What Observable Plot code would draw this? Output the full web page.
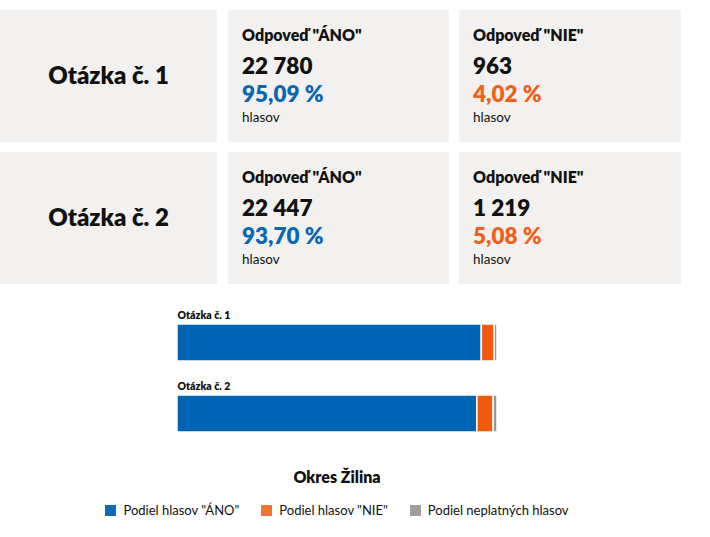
<!DOCTYPE html>
<html>
<head>
<meta charset="utf-8">
<script src="https://cdn.jsdelivr.net/npm/d3@7"></script>
<script src="https://cdn.jsdelivr.net/npm/@observablehq/plot@0.6"></script>
<style>
  html, body { margin: 0; padding: 0; background: #fff; }
  body { width: 710px; height: 537px; position: relative; overflow: hidden; font-family: Lato, "Open Sans", sans-serif; color: #111; }
  .card { position: absolute; background: #f2f1f0; }
  .t { position: absolute; white-space: nowrap; line-height: 1; }
  #chart { position: absolute; left: 0; top: 290px; }
  #title { position: absolute; left: 0; width: 674px; text-align: center; font-weight: 700; font-size: 16px; line-height: 1; }
  #legend { position: absolute; left: 0; width: 674px; display: flex; justify-content: center; align-items: center; font-size: 13px; line-height: 1; }
  .sw { display: inline-flex; align-items: center; margin: 0 11px; }
  .sq { width: 11px; height: 11px; margin-right: 7px; display: inline-block; }
</style>
</head>
<body>
<div id="cards"></div>
<div id="chart"></div>
<div id="title"></div>
<div id="legend"></div>
<script>
// ---- data ----
const questions = ["Otázka č. 1", "Otázka č. 2"];
const yesVotes = [22780, 22447];
const noVotes = [963, 1219];
const yesPct = [95.09, 93.70];
const noPct = [4.02, 5.08];
const invalidPct = [0.89, 1.22];
const answerLabels = ['Odpoveď "ÁNO"', 'Odpoveď "NIE"'];
const unitLabel = "hlasov";
const categories = ['Podiel hlasov "ÁNO"', 'Podiel hlasov "NIE"', 'Podiel neplatných hlasov'];
const colors = ["#0064b4", "#f25a0f", "#999999"];
const district = "Okres Žilina";

// ---- formatting ----
const fmtInt = v => d3.format(",")(v).replace(/,/g, "\u00a0");
const fmtPct = v => v.toFixed(2).replace(".", ",") + "\u00a0%";

// ---- cards ----
const cards = document.getElementById("cards");
function el(cls, css, text, parent) {
  const d = document.createElement("div");
  d.className = cls;
  Object.assign(d.style, css);
  if (text != null) d.textContent = text;
  parent.appendChild(d);
  return d;
}
const rowTop = [10, 152];
const cardH = 132;
const cardX = [[0, 217], [228, 449], [459, 681]];
questions.forEach((q, i) => {
  const top = rowTop[i];
  const a = el("card", {left: cardX[0][0] + "px", top: top + "px", width: (cardX[0][1] - cardX[0][0]) + "px", height: cardH + "px"}, null, cards);
  el("t", {left: "0", width: "100%", textAlign: "center", top: "53px", fontSize: "24px", fontWeight: 800}, q, a);
  const vals = [[yesVotes[i], yesPct[i], colors[0]], [noVotes[i], noPct[i], colors[1]]];
  vals.forEach(([n, p, c], j) => {
    const x0 = cardX[j + 1][0], x1 = cardX[j + 1][1];
    const card = el("card", {left: x0 + "px", top: top + "px", width: (x1 - x0) + "px", height: cardH + "px"}, null, cards);
    el("t", {left: "14px", top: "16.5px", fontSize: "16px", fontWeight: 800}, answerLabels[j], card);
    el("t", {left: "14px", top: "45px", fontSize: "22.5px", fontWeight: 800}, fmtInt(n), card);
    el("t", {left: "14px", top: "73px", fontSize: "22.5px", fontWeight: 800, color: c === colors[0] ? "#0a67b2" : "#f0601a"}, fmtPct(p), card);
    el("t", {left: "14px", top: "101px", fontSize: "13.5px"}, unitLabel, card);
  });
});

// ---- bar chart ----
const rows = [];
questions.forEach((q, i) => {
  rows.push({q, cat: categories[0], v: yesPct[i]});
  rows.push({q, cat: categories[1], v: noPct[i]});
  rows.push({q, cat: categories[2], v: invalidPct[i]});
});
const plot = Plot.plot({
  width: 710,
  height: 150,
  marginLeft: 177,
  marginRight: 213,
  marginTop: 34,
  marginBottom: 8,
  style: {fontFamily: "Lato, sans-serif", background: "transparent"},
  x: {domain: [0, 100], axis: null},
  y: {domain: questions, axis: null, paddingInner: 0.479, paddingOuter: 0},
  color: {domain: categories, range: colors},
  marks: [
    Plot.barX(rows, Plot.stackX({x: "v", y: "q", fill: "cat", order: categories, stroke: "white", strokeWidth: 1.5})),
    Plot.text(questions, {x: 0, y: d => d, text: d => d, textAnchor: "start", lineAnchor: "bottom", dy: -24, fontSize: 10.5, fontWeight: 800, fill: "#111"})
  ]
});
document.getElementById("chart").appendChild(plot);

// ---- title & legend ----
const title = document.getElementById("title");
title.textContent = district;
title.style.top = (477 - 8) + "px";
title.style.fontWeight = 800;
const legend = document.getElementById("legend");
legend.style.top = (510 - 7) + "px";
legend.style.height = "14px";
categories.forEach((c, i) => {
  const s = document.createElement("span");
  s.className = "sw";
  const sq = document.createElement("span");
  sq.className = "sq";
  sq.style.background = colors[i];
  sq.style.opacity = i === 1 ? 0.85 : 0.95;
  s.appendChild(sq);
  s.appendChild(document.createTextNode(c));
  legend.appendChild(s);
});
</script>
</body>
</html>
